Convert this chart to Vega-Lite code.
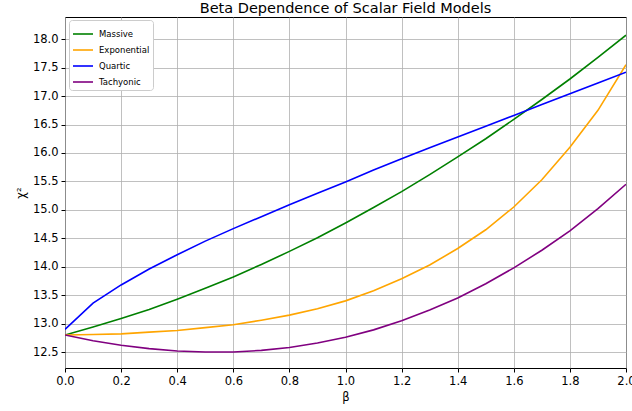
{
  "$schema": "https://vega.github.io/schema/vega-lite/v6.json",
  "width": 561,
  "height": 351,
  "autosize": {"type": "none"},
  "padding": {"left": 65, "top": 17, "right": 6, "bottom": 43},
  "background": "white",
  "title": {"text": "Beta Dependence of Scalar Field Models", "font": "DejaVu Sans", "fontSize": 14.5, "fontWeight": "normal", "color": "black", "offset": 1},
  "config": {
    "view": {"stroke": "black", "strokeWidth": 1},
    "font": "DejaVu Sans"
  },
  "data": {"values": [
    {"beta": 0.0, "Massive": 12.80, "Exponential": 12.80, "Quartic": 12.90, "Tachyonic": 12.80},
    {"beta": 0.1, "Massive": 12.94, "Exponential": 12.81, "Quartic": 13.36, "Tachyonic": 12.70},
    {"beta": 0.2, "Massive": 13.09, "Exponential": 12.82, "Quartic": 13.68, "Tachyonic": 12.62},
    {"beta": 0.3, "Massive": 13.25, "Exponential": 12.85, "Quartic": 13.96, "Tachyonic": 12.56},
    {"beta": 0.4, "Massive": 13.43, "Exponential": 12.88, "Quartic": 14.21, "Tachyonic": 12.52},
    {"beta": 0.5, "Massive": 13.62, "Exponential": 12.93, "Quartic": 14.45, "Tachyonic": 12.50},
    {"beta": 0.6, "Massive": 13.82, "Exponential": 12.98, "Quartic": 14.67, "Tachyonic": 12.50},
    {"beta": 0.7, "Massive": 14.04, "Exponential": 13.06, "Quartic": 14.88, "Tachyonic": 12.53},
    {"beta": 0.8, "Massive": 14.27, "Exponential": 13.15, "Quartic": 15.09, "Tachyonic": 12.58},
    {"beta": 0.9, "Massive": 14.51, "Exponential": 13.26, "Quartic": 15.29, "Tachyonic": 12.66},
    {"beta": 1.0, "Massive": 14.77, "Exponential": 13.40, "Quartic": 15.49, "Tachyonic": 12.76},
    {"beta": 1.1, "Massive": 15.04, "Exponential": 13.58, "Quartic": 15.70, "Tachyonic": 12.89},
    {"beta": 1.2, "Massive": 15.32, "Exponential": 13.79, "Quartic": 15.90, "Tachyonic": 13.05},
    {"beta": 1.3, "Massive": 15.62, "Exponential": 14.03, "Quartic": 16.09, "Tachyonic": 13.24},
    {"beta": 1.4, "Massive": 15.93, "Exponential": 14.32, "Quartic": 16.28, "Tachyonic": 13.45},
    {"beta": 1.5, "Massive": 16.25, "Exponential": 14.65, "Quartic": 16.47, "Tachyonic": 13.70},
    {"beta": 1.6, "Massive": 16.59, "Exponential": 15.05, "Quartic": 16.66, "Tachyonic": 13.98},
    {"beta": 1.7, "Massive": 16.94, "Exponential": 15.53, "Quartic": 16.85, "Tachyonic": 14.29},
    {"beta": 1.8, "Massive": 17.30, "Exponential": 16.10, "Quartic": 17.04, "Tachyonic": 14.63},
    {"beta": 1.9, "Massive": 17.68, "Exponential": 16.75, "Quartic": 17.23, "Tachyonic": 15.02},
    {"beta": 2.0, "Massive": 18.07, "Exponential": 17.55, "Quartic": 17.42, "Tachyonic": 15.45}
  ]},
  "transform": [{"fold": ["Massive", "Exponential", "Quartic", "Tachyonic"], "as": ["model", "chi2"]}],
  "mark": {"type": "line", "strokeWidth": 1.6, "clip": true},
  "encoding": {
    "x": {
      "field": "beta", "type": "quantitative",
      "scale": {"domain": [0, 2], "nice": false, "zero": false},
      "axis": {
        "title": "β", "titleFont": "DejaVu Sans", "titleFontSize": 11.5, "titleFontWeight": "normal", "titleColor": "black", "titlePadding": 5,
        "values": [0, 0.2, 0.4, 0.6, 0.8, 1.0, 1.2, 1.4, 1.6, 1.8, 2.0], "format": ".1f",
        "labelFontSize": 11.5, "labelColor": "black", "labelPadding": 3, "labelFlush": false,
        "tickColor": "black", "tickSize": 4, "domain": false,
        "grid": true, "gridColor": "#b0b0b0", "gridWidth": 0.8
      }
    },
    "y": {
      "field": "chi2", "type": "quantitative",
      "scale": {"domain": [12.22, 18.39], "nice": false, "zero": false},
      "axis": {
        "title": "χ²", "titleFont": "DejaVu Sans", "titleFontSize": 11.5, "titleFontWeight": "normal", "titleColor": "black", "titlePadding": 6,
        "values": [12.5, 13.0, 13.5, 14.0, 14.5, 15.0, 15.5, 16.0, 16.5, 17.0, 17.5, 18.0], "format": ".1f",
        "labelFontSize": 11.5, "labelColor": "black", "labelPadding": 3, "labelFlush": false,
        "tickColor": "black", "tickSize": 4, "domain": false,
        "grid": true, "gridColor": "#b0b0b0", "gridWidth": 0.8
      }
    },
    "color": {
      "field": "model", "type": "nominal",
      "scale": {"domain": ["Massive", "Exponential", "Quartic", "Tachyonic"], "range": ["#008000", "#FFA500", "#0000FF", "#800080"]},
      "legend": {
        "title": null, "orient": "none", "legendX": 4, "legendY": 3,
        "symbolType": "stroke", "symbolSize": 400, "symbolStrokeWidth": 1.6,
        "labelFontSize": 8.5, "labelColor": "black", "labelOffset": 5,
        "rowPadding": -7, "padding": 3,
        "fillColor": "white", "strokeColor": "#cccccc", "cornerRadius": 3
      }
    }
  }
}
